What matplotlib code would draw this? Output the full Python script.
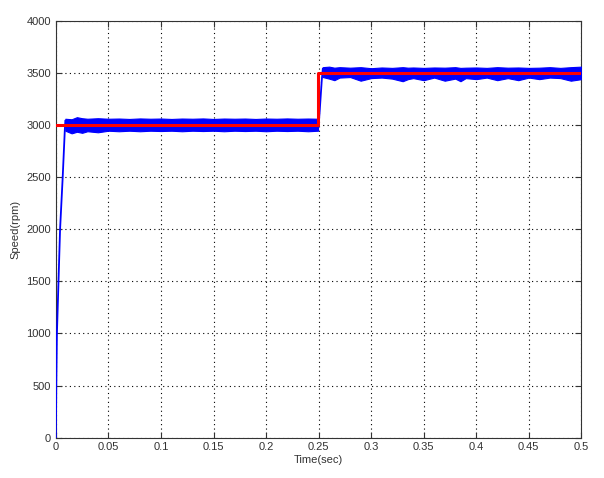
import matplotlib.pyplot as plt
import numpy as np

plt.rcParams['font.family'] = ['Liberation Sans', 'DejaVu Sans']

# reference speed (red)
ref_t = [0.0, 0.2495, 0.2495, 0.5]
ref_speed = [3000, 3000, 3500, 3500]

# start-up and step transient of the measured speed (blue)
rise_t = [0.0, 0.0004, 0.001, 0.0025, 0.004, 0.0065, 0.0085, 0.009]
rise_speed = [0, 500, 1000, 1500, 2000, 2500, 2950, 3040]
step_t = [0.2500, 0.2510, 0.2520, 0.2530, 0.2540]
step_speed = [3000, 3130, 3280, 3430, 3540]

band1_t = [0.009, 0.015, 0.02, 0.025, 0.03, 0.04, 0.05, 0.06, 0.07, 0.08, 0.09, 0.1,
           0.11, 0.12, 0.13, 0.14, 0.15, 0.16, 0.17, 0.18, 0.19, 0.2, 0.21, 0.22,
           0.23, 0.24, 0.2495]
band1_hi = [3060, 3055, 3075, 3065, 3060, 3065, 3060, 3062, 3058, 3063, 3060, 3062,
            3058, 3062, 3060, 3063, 3058, 3062, 3060, 3062, 3058, 3062, 3060, 3063,
            3060, 3062, 3060]
band1_lo = [2945, 2920, 2935, 2925, 2940, 2930, 2945, 2940, 2945, 2940, 2945, 2942,
            2945, 2940, 2945, 2942, 2945, 2940, 2945, 2942, 2945, 2940, 2945, 2942,
            2945, 2940, 2945]
band2_t = [0.254, 0.26, 0.265, 0.27, 0.28, 0.29, 0.3, 0.31, 0.32, 0.33, 0.335, 0.34,
           0.35, 0.36, 0.37, 0.38, 0.385, 0.39, 0.4, 0.41, 0.42, 0.43, 0.44, 0.45,
           0.46, 0.47, 0.48, 0.49, 0.5]
band2_hi = [3555, 3560, 3550, 3555, 3550, 3555, 3545, 3552, 3548, 3555, 3550, 3552,
            3548, 3552, 3550, 3555, 3548, 3550, 3552, 3548, 3555, 3550, 3552, 3548,
            3550, 3555, 3548, 3555, 3560]
band2_lo = [3460, 3445, 3430, 3455, 3460, 3425, 3450, 3455, 3445, 3420, 3440, 3450,
            3430, 3455, 3425, 3445, 3420, 3450, 3440, 3455, 3430, 3450, 3430, 3455,
            3440, 3455, 3450, 3425, 3440]

x_ticks = [0, 0.05, 0.1, 0.15, 0.2, 0.25, 0.3, 0.35, 0.4, 0.45, 0.5]
x_labels = ['0', '0.05', '0.1', '0.15', '0.2', '0.25', '0.3', '0.35', '0.4', '0.45', '0.5']
y_ticks = [0, 500, 1000, 1500, 2000, 2500, 3000, 3500, 4000]

fig = plt.figure(figsize=(6.04, 4.78), dpi=100)
ax = fig.add_axes([0.0925, 0.0845, 0.870, 0.872])

blue = '#0000ff'
ax.plot(rise_t, rise_speed, color=blue, lw=1.3, zorder=3)
ax.plot(step_t, step_speed, color=blue, lw=1.3, zorder=3)
ax.fill_between(band1_t, band1_lo, band1_hi, color=blue, lw=0.8, edgecolor=blue, zorder=3)
ax.fill_between(band2_t, band2_lo, band2_hi, color=blue, lw=0.8, edgecolor=blue, zorder=3)
ax.plot(ref_t, ref_speed, color='#ff0000', lw=2.2, zorder=4)

ax.set_xlim(0, 0.5)
ax.set_ylim(0, 4000)
ax.set_xticks(x_ticks)
ax.set_xticklabels(x_labels)
ax.set_yticks(y_ticks)
ax.tick_params(direction='in', length=4, labelsize=8, top=True, right=True,
               labeltop=False, labelright=False, colors='#333333')
ax.grid(True, color='black', linestyle=(0, (1, 3)), linewidth=0.8)
ax.set_xlabel('Time(sec)', fontsize=8, labelpad=2, color='#333333')
ax.set_ylabel('Speed(rpm)', fontsize=8, labelpad=4, color='#333333')
for s in ax.spines.values():
    s.set_linewidth(0.8)
    s.set_color('#333333')

fig.savefig('out.png', dpi=100)
